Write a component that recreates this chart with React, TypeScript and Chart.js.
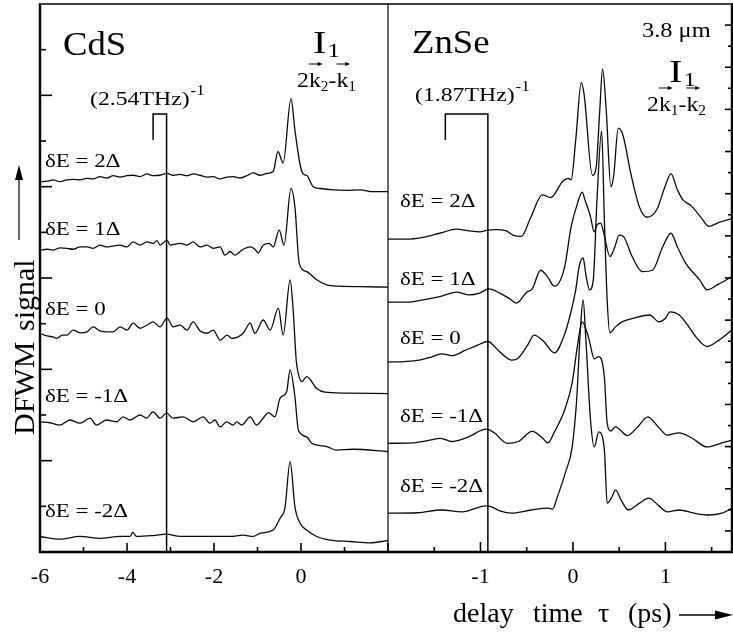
import React, { useEffect, useRef } from "react";
import { Chart, registerables } from "chart.js";

Chart.register(...registerables);

const W = 733;
const H = 634;
const SERIF = '"Liberation Serif", "Times New Roman", "DejaVu Serif", serif';

// ---- tick values ----
const cdsXTicks = [-6, -5, -4, -3, -2, -1, 0, 1, 2];
const cdsXLabels = [-6, -4, -2, 0];
const znXTicks = [-1.5, -1, -0.5, 0, 0.5, 1, 1.5];
const znXLabels = [-1, 0, 1];
const sigTicks = [0, 1, 2, 3, 4, 5, 6, 7, 8, 9, 10, 11, 12];
const znSideTicks = [0, 1, 2, 3, 4, 5, 6, 7, 8, 9, 10, 11, 12, 13, 14, 15, 16, 17, 18, 19, 20, 21, 22, 23, 24, 25, 26];
const deltaLabels = ["δE = 2Δ", "δE = 1Δ", "δE = 0", "δE = -1Δ", "δE = -2Δ"];

// ---- CdS traces (delay in ps, DFWM signal in offset units) ----
const cdsP2X = [-6.0, -5.84, -5.70, -5.54, -5.38, -5.24, -5.08, -4.92, -4.78, -4.62, -4.46, -4.32, -4.16, -4.00, -3.86, -3.70, -3.54, -3.40, -3.24, -3.08, -2.94, -2.78, -2.62, -2.48, -2.32, -2.16, -2.02, -1.86, -1.70, -1.56, -1.40, -1.24, -1.10, -0.94, -0.78, -0.64, -0.53, -0.41, -0.23, -0.14, -0.02, 0.05, 0.14, 0.28, 0.44, 0.74, 1.06, 1.36, 1.66, 2.0];
const cdsP2Y = [8.11, 8.12, 8.15, 8.11, 8.15, 8.16, 8.15, 8.18, 8.17, 8.22, 8.19, 8.24, 8.21, 8.24, 8.25, 8.22, 8.28, 8.24, 8.25, 8.29, 8.25, 8.27, 8.24, 8.28, 8.25, 8.21, 8.22, 8.17, 8.21, 8.22, 8.19, 8.24, 8.30, 8.25, 8.29, 8.33, 8.77, 8.52, 9.93, 9.24, 8.48, 8.28, 8.24, 8.00, 7.96, 7.93, 7.92, 7.93, 7.89, 7.89];

const cdsP1X = [-6.0, -5.84, -5.70, -5.54, -5.38, -5.24, -5.08, -4.92, -4.78, -4.62, -4.46, -4.32, -4.16, -4.00, -3.86, -3.70, -3.54, -3.40, -3.31, -3.24, -3.08, -3.01, -2.78, -2.62, -2.48, -2.32, -2.16, -2.02, -1.86, -1.75, -1.63, -1.52, -1.36, -1.17, -1.06, -0.98, -0.87, -0.73, -0.64, -0.50, -0.39, -0.23, -0.14, -0.04, 0.13, 0.36, 0.59, 0.90, 1.36, 2.0];
const cdsP1Y = [6.61, 6.63, 6.61, 6.66, 6.65, 6.63, 6.68, 6.68, 6.65, 6.72, 6.68, 6.70, 6.72, 6.68, 6.79, 6.72, 6.79, 6.76, 6.82, 6.72, 6.83, 6.72, 6.76, 6.72, 6.79, 6.68, 6.72, 6.65, 6.68, 6.50, 6.58, 6.50, 6.61, 6.68, 6.63, 6.55, 6.72, 6.76, 6.68, 7.05, 6.72, 7.96, 7.56, 6.32, 6.14, 5.96, 5.85, 5.82, 5.81, 5.80];

const cds0X = [-6.0, -5.84, -5.70, -5.61, -5.49, -5.38, -5.24, -5.08, -4.92, -4.78, -4.62, -4.46, -4.32, -4.16, -4.00, -3.86, -3.70, -3.54, -3.40, -3.24, -3.08, -2.94, -2.78, -2.62, -2.48, -2.32, -2.16, -2.02, -1.86, -1.70, -1.59, -1.33, -1.17, -1.06, -0.87, -0.71, -0.52, -0.41, -0.25, -0.18, -0.11, -0.07, 0.02, 0.13, 0.36, 0.55, 1.01, 2.0];
const cds0Y = [4.79, 4.73, 4.71, 4.68, 4.75, 4.75, 4.86, 4.80, 4.82, 4.93, 4.84, 4.82, 4.82, 4.93, 4.86, 5.01, 4.90, 4.97, 5.04, 4.93, 5.12, 4.93, 4.97, 4.86, 5.04, 4.84, 4.79, 4.86, 4.64, 4.75, 4.68, 4.79, 5.01, 4.79, 5.08, 4.86, 5.34, 4.75, 5.96, 5.30, 4.20, 3.94, 3.73, 3.84, 3.58, 3.50, 3.48, 3.47];

const cdsM1X = [-6.0, -5.77, -5.54, -5.31, -5.08, -4.85, -4.70, -4.47, -4.24, -4.09, -3.93, -3.70, -3.55, -3.40, -3.24, -3.09, -2.94, -2.71, -2.48, -2.25, -2.09, -1.98, -1.86, -1.71, -1.56, -1.48, -1.36, -1.17, -1.02, -0.87, -0.75, -0.60, -0.48, -0.33, -0.25, -0.14, -0.06, 0.13, 0.25, 0.59, 0.82, 1.20, 2.0];
const cdsM1Y = [2.85, 2.83, 2.78, 2.89, 2.82, 2.93, 2.78, 2.89, 2.85, 2.96, 2.89, 3.00, 2.93, 3.07, 2.93, 3.04, 2.93, 2.96, 2.85, 2.96, 2.82, 2.89, 2.74, 2.85, 2.78, 2.85, 2.78, 2.96, 2.78, 2.93, 3.05, 2.96, 3.37, 3.51, 3.99, 3.40, 2.67, 2.52, 2.38, 2.31, 2.23, 2.25, 2.20];

const cdsM2X = [-6.0, -5.54, -5.08, -4.62, -4.16, -3.93, -3.87, -3.78, -3.40, -3.09, -2.78, -2.32, -1.86, -1.63, -1.33, -1.10, -0.94, -0.64, -0.48, -0.37, -0.25, -0.14, -0.02, 0.13, 0.36, 0.67, 1.13, 1.59, 2.0];
const cdsM2Y = [0.34, 0.28, 0.34, 0.30, 0.34, 0.34, 0.43, 0.34, 0.36, 0.39, 0.34, 0.34, 0.34, 0.34, 0.37, 0.34, 0.41, 0.48, 0.74, 0.96, 1.98, 0.99, 0.63, 0.48, 0.34, 0.26, 0.23, 0.20, 0.25];

// ---- ZnSe traces ----
const znP2X = [-2.0, -1.80, -1.62, -1.44, -1.26, -1.12, -1.01, -0.92, -0.83, -0.72, -0.65, -0.56, -0.46, -0.33, -0.24, -0.11, -0.05, -0.02, 0.03, 0.09, 0.12, 0.21, 0.25, 0.29, 0.32, 0.36, 0.41, 0.44, 0.49, 0.54, 0.63, 0.72, 0.80, 0.91, 0.99, 1.06, 1.13, 1.19, 1.28, 1.39, 1.47, 1.58, 1.72];
const znP2Y = [6.85, 6.85, 6.89, 6.98, 7.07, 7.03, 7.01, 7.05, 7.06, 7.03, 6.94, 6.91, 7.31, 7.82, 7.76, 8.12, 8.18, 8.15, 9.02, 10.28, 10.03, 8.25, 8.41, 9.67, 10.58, 9.67, 8.00, 8.23, 9.28, 9.13, 8.25, 7.55, 7.33, 7.51, 7.97, 8.28, 7.93, 7.71, 7.58, 7.31, 7.13, 7.22, 7.30];

const znP1X = [-2.0, -1.80, -1.62, -1.44, -1.26, -1.12, -1.01, -0.91, -0.79, -0.68, -0.61, -0.50, -0.44, -0.35, -0.28, -0.20, -0.09, -0.02, 0.05, 0.10, 0.13, 0.19, 0.23, 0.26, 0.30, 0.33, 0.40, 0.45, 0.50, 0.55, 0.64, 0.75, 0.86, 0.97, 1.06, 1.13, 1.22, 1.37, 1.45, 1.57, 1.72];
const znP1Y = [5.47, 5.47, 5.52, 5.59, 5.69, 5.63, 5.67, 5.76, 5.67, 5.54, 5.45, 5.69, 5.76, 6.17, 6.04, 5.82, 6.24, 7.12, 7.64, 7.88, 7.71, 7.34, 7.01, 7.16, 7.20, 7.01, 6.47, 6.66, 6.94, 6.90, 6.47, 6.14, 6.17, 6.68, 6.98, 6.68, 6.32, 5.96, 5.74, 5.86, 6.03];

const zn0X = [-2.0, -1.82, -1.66, -1.53, -1.42, -1.31, -1.16, -1.03, -0.92, -0.81, -0.66, -0.59, -0.49, -0.42, -0.32, -0.20, -0.09, -0.03, 0.03, 0.07, 0.11, 0.14, 0.18, 0.22, 0.26, 0.31, 0.34, 0.37, 0.40, 0.46, 0.53, 0.66, 0.83, 0.93, 1.00, 1.05, 1.15, 1.24, 1.33, 1.45, 1.58, 1.72];
const zn0Y = [4.16, 4.17, 4.20, 4.27, 4.34, 4.30, 4.42, 4.53, 4.61, 4.42, 4.20, 4.25, 4.53, 4.75, 4.62, 4.36, 4.77, 5.19, 5.74, 6.28, 6.44, 6.07, 5.74, 5.96, 7.71, 9.22, 7.27, 5.52, 4.80, 4.93, 5.04, 5.12, 5.19, 5.04, 5.12, 5.26, 5.19, 4.97, 4.71, 4.50, 4.64, 4.86];

const znM1X = [-2.0, -1.74, -1.57, -1.43, -1.31, -1.13, -0.94, -0.85, -0.71, -0.59, -0.44, -0.34, -0.27, -0.20, -0.09, -0.01, 0.05, 0.10, 0.17, 0.23, 0.28, 0.34, 0.37, 0.41, 0.46, 0.59, 0.70, 0.81, 0.93, 1.02, 1.15, 1.29, 1.45, 1.61, 1.72];
const znM1Y = [2.38, 2.39, 2.44, 2.49, 2.42, 2.52, 2.69, 2.61, 2.38, 2.42, 2.64, 2.52, 2.39, 2.63, 3.11, 3.69, 4.53, 5.04, 4.69, 4.23, 4.28, 3.83, 2.82, 2.65, 2.74, 2.55, 2.74, 2.96, 2.72, 2.56, 2.61, 2.49, 2.30, 2.39, 2.45];

const znM2X = [-2.0, -1.68, -1.42, -1.20, -0.94, -0.88, -0.79, -0.66, -0.45, -0.27, -0.22, -0.17, -0.08, -0.01, 0.04, 0.08, 0.11, 0.14, 0.19, 0.23, 0.28, 0.34, 0.37, 0.42, 0.46, 0.52, 0.60, 0.72, 0.82, 0.93, 1.02, 1.15, 1.31, 1.47, 1.61, 1.72];
const znM2Y = [0.85, 0.86, 0.92, 0.88, 1.01, 0.99, 0.90, 0.85, 0.92, 0.96, 0.94, 1.20, 1.75, 2.28, 3.33, 4.86, 5.52, 4.64, 2.89, 2.30, 2.63, 2.23, 1.07, 1.20, 1.36, 1.14, 0.92, 1.07, 1.18, 1.01, 0.88, 0.92, 0.85, 0.81, 0.85, 0.96];

function pts(xs: number[], ys: number[]) {
  const n = Math.min(xs.length, ys.length);
  const out: { x: number; y: number }[] = [];
  for (let i = 0; i < n; i++) out.push({ x: xs[i], y: ys[i] });
  return out;
}

function traceSet(data: { x: number; y: number }[]) {
  return {
    data,
    borderColor: "#0a0a0a",
    borderWidth: 1.3,
    pointRadius: 0,
    fill: false,
    cubicInterpolationMode: "monotone" as const,
  };
}

// ---- drawing helpers ----
function seg(ctx: CanvasRenderingContext2D, x1: number, y1: number, x2: number, y2: number, w: number) {
  ctx.lineWidth = w;
  ctx.beginPath();
  ctx.moveTo(x1, y1);
  ctx.lineTo(x2, y2);
  ctx.stroke();
}

function txt(ctx: CanvasRenderingContext2D, s: string, x: number, y: number, size: number, sx = 1) {
  ctx.save();
  ctx.font = `${size}px ${SERIF}`;
  ctx.textAlign = "left";
  ctx.textBaseline = "alphabetic";
  ctx.translate(x, y);
  ctx.scale(sx, 1);
  ctx.fillText(s, 0, 0);
  const w = ctx.measureText(s).width * sx;
  ctx.restore();
  return w;
}

function hArrow(ctx: CanvasRenderingContext2D, x1: number, x2: number, y: number, head: number, half: number, w: number) {
  seg(ctx, x1, y, x2 - head + 1, y, w);
  ctx.beginPath();
  ctx.moveTo(x2, y);
  ctx.lineTo(x2 - head, y - half);
  ctx.lineTo(x2 - head, y + half);
  ctx.closePath();
  ctx.fill();
}

function vecLabel(ctx: CanvasRenderingContext2D, x: number, y: number, a: string, b: string, size: number, sx: number) {
  let cx = x;
  cx += txt(ctx, "2", cx, y, size, sx);
  const k1 = cx;
  const kw = txt(ctx, "k", cx, y, size, sx);
  cx += kw;
  cx += txt(ctx, a, cx, y + 4, size * 0.65, sx);
  cx += txt(ctx, "-", cx, y, size, sx);
  const k2 = cx;
  cx += txt(ctx, "k", cx, y, size, sx);
  cx += txt(ctx, b, cx, y + 4, size * 0.65, sx);
  hArrow(ctx, k1, k1 + kw + 2, y - 23, 5, 2, 1);
  hArrow(ctx, k2, k2 + kw + 2, y - 23, 5, 2, 1);
}

function supText(ctx: CanvasRenderingContext2D, main: string, sup: string, x: number, y: number, size: number, sx: number) {
  const w = txt(ctx, main, x, y, size, sx);
  txt(ctx, sup, x + w + 1, y - 10, size * 0.72, sx);
}

function subText(ctx: CanvasRenderingContext2D, main: string, sub: string, x: number, y: number, size: number, sx: number) {
  const w = txt(ctx, main, x, y, size, sx);
  txt(ctx, sub, x + w + 1, y + 4, size * 0.62, sx);
}

const cdsDeco = {
  id: "cdsDeco",
  afterDraw(chart: any) {
    const ctx: CanvasRenderingContext2D = chart.ctx;
    const a = chart.chartArea;
    const x = chart.scales.x;
    const y = chart.scales.y;
    ctx.save();
    ctx.strokeStyle = "#000";
    ctx.fillStyle = "#000";
    // frame
    seg(ctx, a.left, a.top, a.right, a.top, 1.5);
    seg(ctx, a.left, a.top - 0.75, a.left, a.bottom + 1, 2.4);
    seg(ctx, a.left - 1, a.bottom, a.right, a.bottom, 2.4);
    seg(ctx, a.right, a.top, a.right, a.bottom, 1.2);
    // inner ticks
    for (const v of sigTicks) {
      if (v === 0 || v === 12) continue;
      const py = y.getPixelForValue(v);
      seg(ctx, a.left, py, a.left + (v % 2 === 0 ? 12 : 6), py, 1.6);
    }
    for (const v of cdsXTicks) {
      const px = x.getPixelForValue(v);
      seg(ctx, px, a.bottom, px, a.bottom - (v % 2 === 0 ? 9 : 5), 1.6);
    }
    // period bracket
    const bl = x.getPixelForValue(-3.4);
    const br = x.getPixelForValue(-3.09);
    const bt = y.getPixelForValue(9.59);
    const bb = y.getPixelForValue(9.02);
    seg(ctx, bl, bb, bl, bt - 0.7, 1.5);
    seg(ctx, bl, bt, br, bt, 1.5);
    seg(ctx, br, bt - 0.7, br, a.bottom, 1.5);
    // texts
    txt(ctx, "CdS", 63, 55, 34, 1.08);
    subText(ctx, "I", "1", 313, 53, 31, 1.3);
    vecLabel(ctx, 297, 87, "2", "1", 22, 1.08);
    supText(ctx, "(2.54THz)", "-1", 90, 105, 19, 1.25);
    const lb = [167, 235, 315, 401.7, 516.7];
    deltaLabels.forEach((s, i) => txt(ctx, s, 45, lb[i], 18.5, 1.24));
    // y-axis title
    ctx.save();
    ctx.translate(34, 435);
    ctx.rotate(-Math.PI / 2);
    ctx.font = `30px ${SERIF}`;
    ctx.textBaseline = "alphabetic";
    ctx.fillText("DFWM", 0, 0);
    ctx.fillText("signal", 104, 0);
    ctx.restore();
    // y arrow
    seg(ctx, 19, 240, 19, 178, 1.2);
    ctx.beginPath();
    ctx.moveTo(19, 165);
    ctx.lineTo(15, 180);
    ctx.lineTo(23, 180);
    ctx.closePath();
    ctx.fill();
    ctx.restore();
  },
};

const znDeco = {
  id: "znDeco",
  afterDraw(chart: any) {
    const ctx: CanvasRenderingContext2D = chart.ctx;
    const a = chart.chartArea;
    const x = chart.scales.x;
    const y = chart.scales.y;
    const y2 = chart.scales.y2;
    ctx.save();
    ctx.strokeStyle = "#000";
    ctx.fillStyle = "#000";
    seg(ctx, a.left, a.top, a.right, a.top, 1.5);
    seg(ctx, a.left, a.bottom, a.right + 1, a.bottom, 2.4);
    seg(ctx, a.right, a.top - 0.75, a.right, a.bottom + 1, 2.4);
    for (const v of znSideTicks) {
      if (v === 0 || v === 26) continue;
      const py = y2.getPixelForValue(v);
      seg(ctx, a.right, py, a.right - (v % 2 === 1 ? 7 : 4), py, 1.6);
    }
    for (const v of znXTicks) {
      const px = x.getPixelForValue(v);
      const major = Number.isInteger(v);
      seg(ctx, px, a.bottom, px, a.bottom - (major ? 10 : 5), 1.6);
    }
    const bl = x.getPixelForValue(-1.38);
    const br = x.getPixelForValue(-0.92);
    const bt = y.getPixelForValue(9.59);
    const bb = y.getPixelForValue(9.02);
    seg(ctx, bl, bb, bl, bt - 0.7, 1.5);
    seg(ctx, bl, bt, br, bt, 1.5);
    seg(ctx, br, bt - 0.7, br, a.bottom, 1.5);
    txt(ctx, "ZnSe", 412, 53, 34, 1.08);
    txt(ctx, "3.8 μm", 642, 37, 20, 1.22);
    subText(ctx, "I", "1", 669, 82, 31, 1.3);
    vecLabel(ctx, 647, 111, "1", "2", 22, 1.08);
    supText(ctx, "(1.87THz)", "-1", 415, 101, 19, 1.25);
    const lb = [206.7, 285, 344.3, 421.7, 491.7];
    deltaLabels.forEach((s, i) => txt(ctx, s, 400, lb[i], 18.5, 1.24));
    // x-axis title
    txt(ctx, "delay", 453, 622, 28);
    txt(ctx, "time", 533, 622, 28);
    txt(ctx, "τ", 598, 622, 28);
    txt(ctx, "(ps)", 628, 622, 28);
    hArrow(ctx, 679, 733, 615, 18, 4.5, 1.3);
    ctx.restore();
  },
};

export default function App() {
  const r1 = useRef<HTMLCanvasElement>(null);
  const r2 = useRef<HTMLCanvasElement>(null);

  useEffect(() => {
    if (!r1.current || !r2.current) return;
    const tickFont = { family: SERIF, size: 22 };
    const common: any = {
      responsive: false,
      animation: false,
      devicePixelRatio: 1,
      events: [],
      plugins: { legend: { display: false }, tooltip: { enabled: false }, title: { display: false } },
    };
    const c1 = new Chart(r1.current, {
      type: "line",
      data: {
        datasets: [
          traceSet(pts(cdsP2X, cdsP2Y)),
          traceSet(pts(cdsP1X, cdsP1Y)),
          traceSet(pts(cds0X, cds0Y)),
          traceSet(pts(cdsM1X, cdsM1Y)),
          traceSet(pts(cdsM2X, cdsM2Y)),
        ],
      },
      options: {
        ...common,
        layout: { padding: { left: 40, right: W - 388, top: 4, bottom: 0 } },
        scales: {
          x: {
            type: "linear",
            min: -6,
            max: 2,
            position: "bottom",
            afterBuildTicks: (s: any) => {
              s.ticks = cdsXLabels.map((v) => ({ value: v }));
            },
            afterFit: (s: any) => {
              s.height = H - 552;
            },
            grid: { display: false, drawTicks: false },
            border: { display: false },
            ticks: { font: tickFont, color: "#000", padding: 12, autoSkip: false, maxRotation: 0 },
          },
          y: { type: "linear", min: 0, max: 12, display: false },
        },
      },
      plugins: [cdsDeco],
    } as any);
    const c2 = new Chart(r2.current, {
      type: "line",
      data: {
        datasets: [
          traceSet(pts(znP2X, znP2Y)),
          traceSet(pts(znP1X, znP1Y)),
          traceSet(pts(zn0X, zn0Y)),
          traceSet(pts(znM1X, znM1Y)),
          traceSet(pts(znM2X, znM2Y)),
        ],
      },
      options: {
        ...common,
        layout: { padding: { left: 388, right: 1, top: 4, bottom: 0 } },
        scales: {
          x: {
            type: "linear",
            min: -2,
            max: 1.72,
            position: "bottom",
            afterBuildTicks: (s: any) => {
              s.ticks = znXLabels.map((v) => ({ value: v }));
            },
            afterFit: (s: any) => {
              s.height = H - 552;
            },
            grid: { display: false, drawTicks: false },
            border: { display: false },
            ticks: { font: tickFont, color: "#000", padding: 12, autoSkip: false, maxRotation: 0 },
          },
          y: { type: "linear", min: 0, max: 12, display: false },
          y2: { type: "linear", min: 0, max: 26, display: false, position: "right" },
        },
      },
      plugins: [znDeco],
    } as any);
    return () => {
      c1.destroy();
      c2.destroy();
    };
  }, []);

  return (
    <div style={{ position: "fixed", left: 0, top: 0, width: W, height: H, background: "#fff", overflow: "hidden" }}>
      <canvas ref={r1} width={W} height={H} style={{ position: "absolute", left: 0, top: 0 }} />
      <canvas ref={r2} width={W} height={H} style={{ position: "absolute", left: 0, top: 0 }} />
    </div>
  );
}
